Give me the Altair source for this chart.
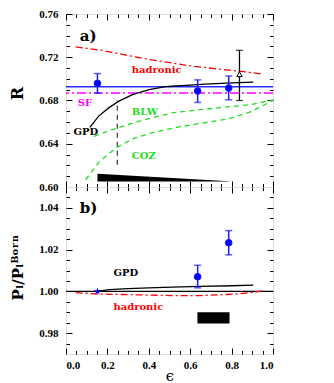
import altair as alt
import pandas as pd

# ---------------- data: panel a ----------------
eps_data = [0.152, 0.636, 0.786]
R_data = [0.6958, 0.6888, 0.6915]
R_lo = [0.6867, 0.6782, 0.6806]
R_hi = [0.7049, 0.6991, 0.7027]

eps_tri = [0.838]
R_tri = [0.7043]
R_tri_lo = [0.6800]
R_tri_hi = [0.7264]

R_fit = [0.6928]
R_SF = [0.6870]

eps_had_a = [0.047, 0.10, 0.173, 0.25, 0.333, 0.414, 0.495, 0.575, 0.655, 0.736, 0.816, 0.88, 0.953]
R_had_a = [0.7295, 0.7282, 0.7264, 0.7235, 0.7204, 0.7176, 0.7152, 0.7127, 0.7108, 0.7091, 0.7075, 0.7062, 0.7043]

eps_gpd_a = [0.115, 0.159, 0.208, 0.256, 0.321, 0.401, 0.482, 0.511, 0.60, 0.671, 0.80, 0.905]
R_gpd_a = [0.6552, 0.6658, 0.6734, 0.6795, 0.6855, 0.6900, 0.6928, 0.6932, 0.6943, 0.6952, 0.6963, 0.6970]

eps_blw = [0.135, 0.20, 0.321, 0.414, 0.52, 0.65, 0.75, 0.833, 0.90, 1.0]
R_blw = [0.6467, 0.6515, 0.6590, 0.6640, 0.6688, 0.6715, 0.6735, 0.6750, 0.6765, 0.6805]

eps_coz = [0.095, 0.159, 0.24, 0.321, 0.414, 0.53, 0.655, 0.785, 0.897, 1.0]
R_coz = [0.6067, 0.6230, 0.6360, 0.6445, 0.6500, 0.6550, 0.6590, 0.6630, 0.6700, 0.6800]

eps_band = [0.152, 0.79]
R_band_top = [0.6122, 0.6054]
R_band_bot = [0.6052, 0.6052]

eps_vline = [0.248]
R_vline_lo = [0.6205]
R_vline_hi = [0.6800]

labels_a = ["a)", "hadronic", "SF", "BLW", "GPD", "COZ"]
labels_a_eps = [0.066, 0.318, 0.057, 0.318, 0.036, 0.318]
labels_a_R = [0.7400, 0.7082, 0.6779, 0.6697, 0.6506, 0.6288]
labels_a_col = ["black", "#ff0000", "#ff00ff", "#22dd22", "black", "#22dd22"]
labels_a_size = [15, 10, 10, 10, 10, 10]

# ---------------- data: panel b ----------------
eps_b = [0.636, 0.786]
P_b = [1.0070, 1.0233]
P_b_lo = [1.0017, 1.0175]
P_b_hi = [1.0125, 1.0291]

eps_star = [0.152]
P_star = [1.000]

P_ref = [1.000]

eps_gpd_b = [0.152, 0.208, 0.30, 0.40, 0.511, 0.65, 0.80, 0.905]
P_gpd_b = [1.0000, 1.0008, 1.0013, 1.0017, 1.0020, 1.0024, 1.0027, 1.0030]

eps_had_b = [0.047, 0.159, 0.321, 0.511, 0.65, 0.752, 0.83, 0.881, 0.92, 0.953]
P_had_b = [0.9994, 0.9987, 0.9984, 0.9980, 0.9980, 0.9984, 0.9988, 0.9993, 0.9998, 1.0003]

eps_rect = [0.635]
eps_rect2 = [0.79]
P_rect = [0.9846]
P_rect2 = [0.9900]

labels_b = ["b)", "GPD", "hadronic"]
labels_b_eps = [0.066, 0.229, 0.229]
labels_b_P = [1.0400, 1.0088, 0.9924]
labels_b_col = ["black", "black", "#ff0000"]
labels_b_size = [15, 10, 10]

# ---------------- axis ticks ----------------
x_major = [0.0, 0.2, 0.4, 0.6, 0.8, 1.0]
x_minor = [0.05, 0.1, 0.15, 0.25, 0.3, 0.35, 0.45, 0.5, 0.55, 0.65, 0.7, 0.75, 0.85, 0.9, 0.95]
ya_major = [0.60, 0.64, 0.68, 0.72, 0.76]
ya_minor = [0.61, 0.62, 0.63, 0.65, 0.66, 0.67, 0.69, 0.70, 0.71, 0.73, 0.74, 0.75]
yb_major = [0.98, 1.00, 1.02, 1.04]
yb_minor = [0.975, 0.985, 0.99, 0.995, 1.005, 1.01, 1.015, 1.025, 1.03, 1.035, 1.045]

W, HA, HB = 207, 173, 167
LFONT = "Liberation Serif"
TFONT = "DejaVu Serif"
MAJ, MIN = 6, 3.5

xs = alt.Scale(domain=[0, 1], nice=False, zero=False)
ysa = alt.Scale(domain=[0.60, 0.76], nice=False, zero=False)
ysb = alt.Scale(domain=[0.97, 1.05], nice=False, zero=False)


def tick_axis(orient, values, size):
    return alt.Axis(orient=orient, values=values, tickSize=size, offset=-size,
                    labels=False, domain=False, grid=False, title=None,
                    ticks=True, tickColor="black", tickWidth=1, minExtent=0)


def axis_layers(ys, ymid, ymaj, ymin, ytitle, ytitle_size, ytitle_y, xlabels):
    d = pd.DataFrame({"x": [0.5], "y": [ymid]})
    base = alt.Chart(d).mark_point(opacity=0)
    layers = []
    for xo, yo, xv, yv, s in [("bottom", "left", x_major, ymaj, MAJ),
                              ("bottom", "left", x_minor, ymin, MIN),
                              ("top", "right", x_major, ymaj, MAJ),
                              ("top", "right", x_minor, ymin, MIN)]:
        layers.append(base.encode(
            x=alt.X("x:Q", scale=xs, axis=tick_axis(xo, xv, s)),
            y=alt.Y("y:Q", scale=ys, axis=tick_axis(yo, yv, s)),
        ))
    if xlabels:
        xax = alt.Axis(orient="bottom", values=x_major, format=".1f", ticks=False, tickSize=0,
                       domain=False, grid=False, labelFont=LFONT, labelFontSize=11,
                       labelFontWeight="bold", labelColor="black", labelPadding=5,
                       title="ϵ", titleFont=TFONT, titleFontSize=15, titleFontWeight="normal",
                       titleColor="black", titleY=21, titleBaseline="middle")
    else:
        xax = None
    ykw = dict(orient="left", values=ymaj, format=".2f", ticks=False, tickSize=0,
               domain=False, grid=False, labelFont=LFONT, labelFontSize=11,
               labelFontWeight="bold", labelColor="black", labelPadding=8,
               title=ytitle, titleFont=TFONT, titleFontSize=ytitle_size,
               titleFontWeight="bold", titleColor="black", titleX=-49,
               titleBaseline="middle", titleAngle=270)
    if ytitle_y is not None:
        ykw["titleY"] = ytitle_y
    yax = alt.Axis(**ykw)
    layers.append(base.encode(
        x=alt.X("x:Q", scale=xs, axis=xax),
        y=alt.Y("y:Q", scale=ys, axis=yax),
    ))
    return layers


def X(field="x"):
    return alt.X(f"{field}:Q", scale=xs, axis=None)


def line(eps, vals, ys, color, dash=None, width=1.2):
    d = pd.DataFrame({"x": eps, "y": vals})
    kw = dict(color=color, strokeWidth=width, clip=True)
    if dash:
        kw["strokeDash"] = dash
    return alt.Chart(d).mark_line(**kw).encode(x=X(), y=alt.Y("y:Q", scale=ys, axis=None))


def hrule(vals, ys, color, dash=None, width=1.5):
    d = pd.DataFrame({"y": vals})
    kw = dict(color=color, strokeWidth=width)
    if dash:
        kw["strokeDash"] = dash
    return alt.Chart(d).mark_rule(**kw).encode(y=alt.Y("y:Q", scale=ys, axis=None))


def errbars(eps, vals, lo, hi, ys, color, shape, fill, size, width=1.5):
    d = pd.DataFrame({"x": eps, "y": vals, "lo": lo, "hi": hi})
    base = alt.Chart(d)
    Y = lambda f: alt.Y(f"{f}:Q", scale=ys, axis=None)
    rule = base.mark_rule(color=color, strokeWidth=width).encode(x=X(), y=Y("lo"), y2="hi:Q")
    cap_lo = base.mark_point(shape="M-1,0H1", size=49, color=color, strokeWidth=width,
                             filled=False).encode(x=X(), y=Y("lo"))
    cap_hi = base.mark_point(shape="M-1,0H1", size=49, color=color, strokeWidth=width,
                             filled=False).encode(x=X(), y=Y("hi"))
    pt = base.mark_point(shape=shape, size=size, filled=True, fill=fill, stroke=color,
                         strokeWidth=1, opacity=1).encode(x=X(), y=Y("y"))
    return [rule, cap_lo, cap_hi, pt]


def texts(labels, eps, vals, cols, sizes, ys):
    d = pd.DataFrame({"t": labels, "x": eps, "y": vals, "c": cols, "s": sizes})
    return alt.Chart(d).mark_text(font=TFONT, fontWeight="bold", align="left",
                                  baseline="middle").encode(
        x=X(), y=alt.Y("y:Q", scale=ys, axis=None), text="t:N",
        color=alt.Color("c:N", scale=None), size=alt.Size("s:Q", scale=None))


# ---------------- panel a ----------------
band = alt.Chart(pd.DataFrame({"x": eps_band, "top": R_band_top, "bot": R_band_bot})).mark_area(
    color="black").encode(x=X(), y=alt.Y("top:Q", scale=ysa, axis=None), y2="bot:Q")
vline = alt.Chart(pd.DataFrame({"x": eps_vline, "lo": R_vline_lo, "hi": R_vline_hi})).mark_rule(
    color="#444444", strokeWidth=1.3, strokeDash=[5, 4]).encode(
    x=X(), y=alt.Y("lo:Q", scale=ysa, axis=None), y2="hi:Q")

layers_a = [
    band,
    vline,
    hrule(R_SF, ysa, "#ff00ff", dash=[9, 3, 2, 3], width=1.6),
    hrule(R_fit, ysa, "#2a2aff", width=1.5),
    line(eps_had_a, R_had_a, ysa, "#ff0000", dash=[7, 3, 2, 3], width=1.3),
    line(eps_blw, R_blw, ysa, "#22dd22", dash=[5, 4], width=1.3),
    line(eps_coz, R_coz, ysa, "#22dd22", dash=[5, 4], width=1.3),
    line(eps_gpd_a, R_gpd_a, ysa, "black", width=1.3),
]
layers_a += errbars(eps_data, R_data, R_lo, R_hi, ysa, "#1a1aff", "circle", "#0000ff", 45)
layers_a += errbars(eps_tri, R_tri, R_tri_lo, R_tri_hi, ysa, "black", "triangle-up", "white", 30, width=1.3)
layers_a.append(texts(labels_a, labels_a_eps, labels_a_R, labels_a_col, labels_a_size, ysa))
layers_a += axis_layers(ysa, 0.68, ya_major, ya_minor, "R", 16, 79, False)

panel_a = alt.layer(*layers_a).resolve_axis(x="independent", y="independent").properties(
    width=W, height=HA)

# ---------------- panel b ----------------
STAR = ("M0,-1L0.2245,-0.309L0.951,-0.309L0.363,0.118L0.588,0.809L0,0.382"
        "L-0.588,0.809L-0.363,0.118L-0.951,-0.309L-0.2245,-0.309Z")
rect_b = alt.Chart(pd.DataFrame({"x": eps_rect, "x2": eps_rect2, "y": P_rect, "y2": P_rect2})).mark_rect(
    color="black").encode(x=X(), x2="x2:Q", y=alt.Y("y:Q", scale=ysb, axis=None), y2="y2:Q")
star = alt.Chart(pd.DataFrame({"x": eps_star, "y": P_star})).mark_point(
    shape=STAR, size=60, filled=True, color="#0000ff", opacity=1).encode(
    x=X(), y=alt.Y("y:Q", scale=ysb, axis=None))

layers_b = [
    rect_b,
    hrule(P_ref, ysb, "black", width=1.3),
    line(eps_had_b, P_had_b, ysb, "#ff0000", dash=[7, 3, 2, 3], width=1.3),
    line(eps_gpd_b, P_gpd_b, ysb, "black", width=1.3),
]
layers_b += errbars(eps_b, P_b, P_b_lo, P_b_hi, ysb, "#1a1aff", "circle", "#0000ff", 45)
layers_b.append(star)
layers_b.append(texts(labels_b, labels_b_eps, labels_b_P, labels_b_col, labels_b_size, ysb))
layers_b += axis_layers(ysb, 1.01, yb_major, yb_minor, "Pₗ/Pₗᴮᵒʳⁿ", 15, 80, True)

panel_b = alt.layer(*layers_b).resolve_axis(x="independent", y="independent").properties(
    width=W, height=HB)


def build(padding):
    return alt.vconcat(panel_a, panel_b, spacing=0, bounds="flush").properties(
        padding=padding).configure_view(stroke="#222222", strokeWidth=1.5).configure(
        background="white")


try:
    chart = build({"left": 0, "top": -1, "right": 0, "bottom": 0})
    chart.to_dict()
except Exception as e:
    print("fallback padding:", e)
    chart = build({"left": 0, "top": 0, "right": 0, "bottom": 0})

chart.save("out.html", embed_options={"renderer": "svg", "actions": False})
